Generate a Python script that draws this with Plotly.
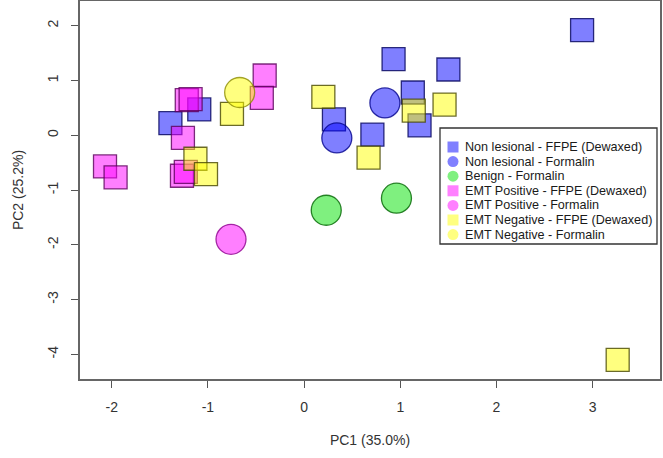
import plotly.graph_objects as go

# ---- data (PC1, PC2) per group ----
nl_ffpe_x = [0.93, 1.50, 0.31, 1.13, 1.20, 0.71, 2.89, -1.09, -1.39]
nl_ffpe_y = [1.39, 1.20, 0.29, 0.78, 0.18, 0.01, 1.92, 0.47, 0.22]
nl_form_x = [0.34, 0.84]
nl_form_y = [-0.05, 0.59]
ben_form_x = [0.23, 0.96]
ben_form_y = [-1.37, -1.15]
pos_ffpe_x = [-2.07, -1.96, -1.22, -1.18, -1.26, -1.27, -1.23, -0.41, -0.44]
pos_ffpe_y = [-0.57, -0.77, 0.64, 0.66, -0.05, -0.74, -0.67, 1.09, 0.68]
pos_form_x = [-0.76]
pos_form_y = [-1.90]
neg_ffpe_x = [0.20, 1.14, 1.46, 0.67, 3.26, -1.13, -1.02, -0.75]
neg_ffpe_y = [0.70, 0.45, 0.56, -0.41, -4.10, -0.43, -0.71, 0.39]
neg_form_x = [-0.67]
neg_form_y = [0.78]

x_ticks = [-2, -1, 0, 1, 2, 3]
x_tick_labels = ["-2", "-1", "0", "1", "2", "3"]
y_ticks = [-4, -3, -2, -1, 0, 1, 2]
y_tick_labels = ["-4", "-3", "-2", "-1", "0", "1", "2"]

labels = ["Non lesional - FFPE (Dewaxed)", "Non lesional - Formalin", "Benign - Formalin",
          "EMT Positive - FFPE (Dewaxed)", "EMT Positive - Formalin",
          "EMT Negative - FFPE (Dewaxed)", "EMT Negative - Formalin"]
xs = [nl_ffpe_x, nl_form_x, ben_form_x, pos_ffpe_x, pos_form_x, neg_ffpe_x, neg_form_x]
ys = [nl_ffpe_y, nl_form_y, ben_form_y, pos_ffpe_y, pos_form_y, neg_ffpe_y, neg_form_y]
symbols = ["square", "circle", "circle", "square", "circle", "square", "circle"]
fills = ["rgba(0,0,255,0.5)", "rgba(0,0,255,0.5)", "rgba(0,225,0,0.5)",
         "rgba(255,0,255,0.5)", "rgba(255,0,255,0.5)", "rgba(255,255,0,0.5)", "rgba(255,255,0,0.5)"]
solid = ["#8080ff", "#8080ff", "#80f080", "#ff80ff", "#ff80ff", "#ffff80", "#ffff80"]
edges = ["rgba(0,0,90,0.8)", "rgba(0,0,140,0.8)", "rgba(0,100,0,0.8)",
         "rgba(90,0,90,0.8)", "rgba(140,0,140,0.8)", "rgba(70,70,0,0.8)", "rgba(140,140,0,0.8)"]

W, H = 663, 458
L, R, T, B = 80, 3, 1, 79

fig = go.Figure()
for i in range(len(labels)):
    size = 23 if symbols[i] == "square" else 30
    fig.add_trace(go.Scatter(
        x=xs[i], y=ys[i], mode="markers", name=labels[i], showlegend=False,
        marker=dict(symbol=symbols[i], size=size, color=fills[i],
                    line=dict(color=edges[i], width=1.3))))

# ---- hand-built legend (pixel overlay axes) ----
leg_x0, leg_x1, leg_y0, leg_y1 = 440, 657, 128, 244
row0, row_step = 147, 14.6
rows = [row0 + k * row_step for k in range(len(labels))]
fig.add_trace(go.Scatter(
    x=[453] * len(labels), y=rows, mode="markers", xaxis="x2", yaxis="y2",
    showlegend=False, hoverinfo="skip",
    marker=dict(symbol=symbols, size=11, color=solid, line=dict(width=0))))
for lab, ry in zip(labels, rows):
    fig.add_annotation(x=463, y=ry, xref="x2", yref="y2", text=lab, showarrow=False,
                       xanchor="left", yanchor="middle",
                       font=dict(family="Liberation Sans, Arial", size=12.6, color="#1a1a1a"))
fig.add_shape(type="rect", xref="x2", yref="y2", x0=leg_x0, x1=leg_x1, y0=leg_y0, y1=leg_y1,
              line=dict(color="#333333", width=1.3), fillcolor="rgba(255,255,255,0)")

axis_font = dict(family="Liberation Sans, Arial", size=14, color="#333333")
fig.update_layout(
    width=W, height=H, margin=dict(l=L, r=R, t=T, b=B, autoexpand=False),
    paper_bgcolor="white", plot_bgcolor="white", showlegend=False,
    xaxis=dict(range=[-2.33, 3.70], tickvals=x_ticks, ticktext=x_tick_labels, ticks="outside",
               ticklen=7, tickcolor="#555555", tickwidth=1.3, showgrid=False, zeroline=False,
               showline=True, mirror=True, linecolor="#666666", linewidth=1.6,
               tickfont=axis_font, ticklabelstandoff=7, automargin=False,
               title=dict(text="PC1 (35.0%)", font=axis_font, standoff=22)),
    yaxis=dict(range=[-4.45, 2.45], tickvals=y_ticks, ticktext=y_tick_labels, ticks="outside",
               ticklen=7, tickcolor="#555555", tickwidth=1.3, showgrid=False, zeroline=False,
               showline=True, mirror=True, linecolor="#666666", linewidth=1.6,
               tickangle=-90, tickfont=axis_font, ticklabelstandoff=8, automargin=False,
               title=dict(text="PC2 (25.2%)", font=axis_font, standoff=18)),
    xaxis2=dict(range=[L, W - R], domain=[0, 1], overlaying="x", visible=False, fixedrange=True),
    yaxis2=dict(range=[H - B, T], domain=[0, 1], overlaying="y", visible=False, fixedrange=True),
)
fig.write_html("out.html", config={"displayModeBar": False},
               post_script="document.body.style.margin='0';document.body.style.padding='0';")
